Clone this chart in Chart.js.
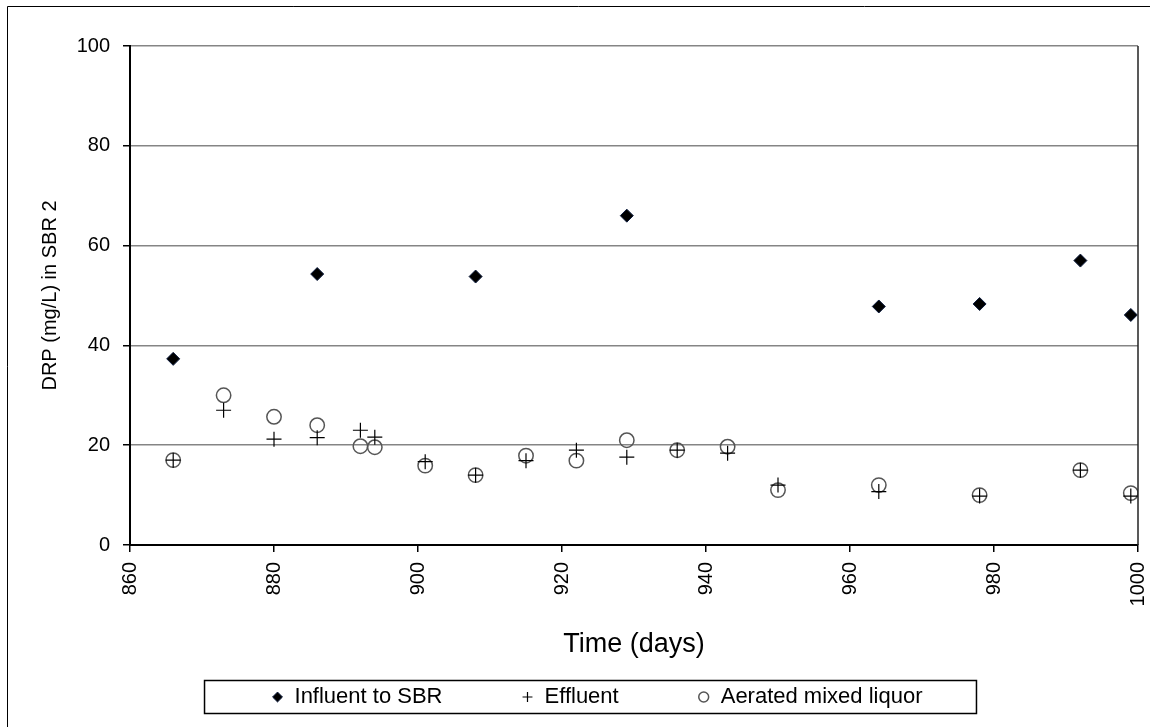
<!DOCTYPE html>
<html>
<head>
<meta charset="utf-8">
<script src="https://cdn.jsdelivr.net/npm/chart.js@4.4.1/dist/chart.umd.min.js"></script>
<style>
  html, body { margin: 0; padding: 0; background: #fff; }
  #wrap { width: 1158px; height: 727px; position: relative; }
</style>
</head>
<body>
<div id="wrap"><canvas id="chart"></canvas></div>
<script>
const FONT = '"Liberation Sans", Arial, sans-serif';

const influentDays = [866, 886, 908, 929, 964, 978, 992, 999];
const influentDrp = [37.3, 54.3, 53.8, 66, 47.8, 48.3, 57, 46.1];

const sampleDays = [866, 873, 880, 886, 892, 894, 901, 908, 915, 922, 929, 936, 943, 950, 964, 978, 992, 999];
const effluentDrp = [17, 27, 21.2, 21.5, 23, 21.6, 16.7, 14, 16.9, 19, 17.6, 19, 18.4, 12, 10.7, 9.8, 15, 9.8];
const aeratedDrp = [17, 30, 25.7, 24, 19.8, 19.6, 15.9, 14, 17.9, 16.9, 21, 19, 19.7, 11, 12, 10, 15, 10.4];

const seriesNames = ['Influent to SBR', 'Effluent', 'Aerated mixed liquor'];
const xTitle = 'Time (days)';
const yTitle = 'DRP (mg/L) in SBR 2';

function toPoints(days, values) {
  return days.map((day, index) => ({ x: day, y: values[index] }));
}

// outer frame of the picture, the legend box and the plot's right edge
const framePlugin = {
  id: 'frame',
  afterDraw(chart) {
    const { ctx, chartArea, legend } = chart;
    ctx.save();
    ctx.strokeStyle = '#000';
    ctx.lineWidth = 1;
    ctx.beginPath();
    ctx.moveTo(7.5, 727);
    ctx.lineTo(7.5, 6.5);
    ctx.lineTo(1150, 6.5);
    ctx.stroke();

    ctx.strokeStyle = '#222';
    ctx.lineWidth = 1.5;
    ctx.beginPath();
    ctx.moveTo(chartArea.right, chartArea.top);
    ctx.lineTo(chartArea.right, chartArea.bottom);
    ctx.stroke();

    if (legend && legend.legendHitBoxes.length) {
      const boxes = legend.legendHitBoxes;
      const first = boxes[0];
      const last = boxes[boxes.length - 1];
      const cy = first.top + first.height / 2;
      ctx.strokeStyle = '#000';
      ctx.lineWidth = 1.5;
      ctx.strokeRect(first.left - 67, cy - 16.5, (last.left + last.width) - first.left + 121, 33);
    }
    ctx.restore();
  },
};

const chart = new Chart(document.getElementById('chart'), {
  type: 'scatter',
  data: {
    datasets: [
      {
        label: seriesNames[0],
        data: toPoints(influentDays, influentDrp),
        pointStyle: 'rectRot',
        pointRadius: 6.5,
        backgroundColor: '#000',
        borderColor: '#0b1a3c',
        borderWidth: 1,
      },
      {
        label: seriesNames[1],
        data: toPoints(sampleDays, effluentDrp),
        pointStyle: 'cross',
        pointRadius: 7.5,
        backgroundColor: '#000',
        borderColor: '#000',
        borderWidth: 1.2,
      },
      {
        label: seriesNames[2],
        data: toPoints(sampleDays, aeratedDrp),
        pointStyle: 'circle',
        pointRadius: 7.2,
        backgroundColor: 'rgba(0,0,0,0)',
        borderColor: '#555',
        borderWidth: 1.5,
      },
    ],
  },
  options: {
    responsive: true,
    maintainAspectRatio: false,
    animation: false,
    layout: {
      padding: { top: 46, right: 20, bottom: 9, left: 56 },
    },
    scales: {
      x: {
        type: 'linear',
        min: 860,
        max: 1000,
        afterFit(scale) {
          scale.height = 62;
          scale.paddingLeft = 0;
          scale.paddingRight = 0;
        },
        border: { color: '#000', width: 2 },
        grid: {
          drawOnChartArea: false,
          tickColor: '#000',
          tickLength: 7,
          lineWidth: 1.5,
        },
        ticks: {
          stepSize: 20,
          minRotation: 90,
          maxRotation: 90,
          padding: 10,
          color: '#000',
          font: { family: FONT, size: 20 },
          callback: (value) => String(value),
        },
        title: {
          display: true,
          text: xTitle,
          color: '#000',
          font: { family: FONT, size: 27 },
          padding: { top: 0, bottom: -54 },
        },
      },
      y: {
        min: 0,
        max: 100,
        afterFit(scale) {
          scale.width = 74;
        },
        border: { color: '#000', width: 2 },
        grid: {
          color: '#858585',
          lineWidth: 1.5,
          tickColor: '#000',
          tickLength: 7,
        },
        ticks: {
          stepSize: 20,
          padding: 13,
          color: '#000',
          font: { family: FONT, size: 20 },
        },
        title: {
          display: true,
          text: yTitle,
          color: '#000',
          font: { family: FONT, size: 20 },
          padding: { top: -18, bottom: 0 },
        },
      },
    },
    plugins: {
      legend: {
        position: 'bottom',
        labels: {
          usePointStyle: true,
          boxWidth: 12,
          boxHeight: 7,
          padding: 79,
          color: '#000',
          font: { family: FONT, size: 22 },
        },
      },
      tooltip: { enabled: false },
    },
  },
  plugins: [framePlugin],
});
</script>
</body>
</html>
